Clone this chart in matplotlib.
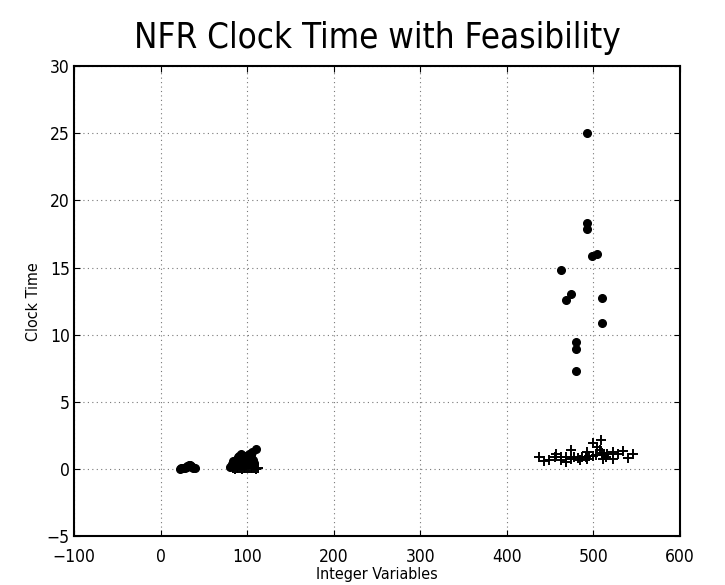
import matplotlib
matplotlib.use("Agg")
import matplotlib.pyplot as plt

plt.rcParams['font.family'] = ['DejaVu Sans']
plt.rcParams['font.stretch'] = 'condensed'

# circles (dots)
dot_x = [22, 24, 26, 28, 30, 31, 33, 34, 35, 36, 38, 40,
         80, 82, 84, 85, 87, 88, 90, 91, 92, 93, 95, 96, 97, 98, 100, 101,
         102, 103, 104, 105, 106, 107, 108, 110,
         492, 492, 492, 498, 504, 463, 474, 468, 510, 510, 480, 480, 480]
dot_y = [0.05, 0.08, 0.1, 0.12, 0.18, 0.22, 0.3, 0.28, 0.22, 0.15, 0.1, 0.06,
         0.15, 0.4, 0.6, 0.3, 0.7, 0.5, 0.9, 1.0, 0.6, 1.1, 0.8, 0.4, 1.0, 0.7, 0.9, 0.5,
         1.1, 0.8, 1.05, 0.6, 1.25, 0.7, 0.5, 1.5,
         25.05, 18.34, 17.9, 15.85, 16.0, 14.8, 13.06, 12.6, 12.76, 10.92, 9.5, 8.98, 7.29]

# plus markers
plus_x = [84, 86, 88, 90, 92, 94, 96, 98, 100, 102, 104, 106, 108, 110, 112,
          437, 443, 449, 455, 457, 462, 463, 468, 468, 474, 474, 478, 482, 485,
          487, 491, 493, 495, 499, 499, 503, 504, 507, 509, 510, 512, 514, 516,
          522, 528, 534, 540, 546, 492, 511, 523]
plus_y = [0.1, 0.05, 0.12, 0.08, 0.1, 0.05, 0.12, 0.08, 0.1, 0.06, 0.12, 0.08, 0.1, 0.05, 0.08,
          0.92, 0.62, 0.72, 0.92, 1.12, 0.92, 0.72, 0.55, 0.92, 1.42, 0.8, 0.92, 0.87, 0.72,
          0.92, 0.92, 1.29, 0.97, 1.92, 0.97, 1.04, 1.62, 1.42, 2.16, 1.22, 1.04, 0.92, 1.17,
          1.29, 1.12, 1.37, 0.87, 1.12, 0.8, 0.8, 0.8]

fig = plt.figure(figsize=(7.25, 5.85), dpi=100)
ax = fig.add_axes([0.102, 0.083, 0.836, 0.804])

ax.plot(dot_x, dot_y, 'o', color='black', markersize=5.5, markeredgecolor='black')
ax.plot(plus_x, plus_y, '+', color='black', markersize=7, markeredgewidth=1.4)

ax.set_xlim(-100, 600)
ax.set_ylim(-5, 30)
ax.set_xticks(range(-100, 601, 100))
ax.set_yticks(range(-5, 31, 5))
ax.grid(True, linestyle=(0, (1, 3)), color='#555555', linewidth=0.8, alpha=0.8)
ax.tick_params(direction='in', top=True, right=True, labelsize=12.5, length=4)
ax.tick_params(axis='x', pad=8)
ax.tick_params(axis='y', pad=3)
for lbl in ax.get_yticklabels():
    lbl.set_verticalalignment('center_baseline')
for s in ax.spines.values():
    s.set_linewidth(1.5)

ax.set_xlabel('Integer Variables', fontsize=11.5, labelpad=1)
ax.set_ylabel('Clock Time', fontsize=11.5)
ax.set_title('NFR Clock Time with Feasibility', fontsize=25, pad=13)

fig.savefig('out.png', dpi=100)
